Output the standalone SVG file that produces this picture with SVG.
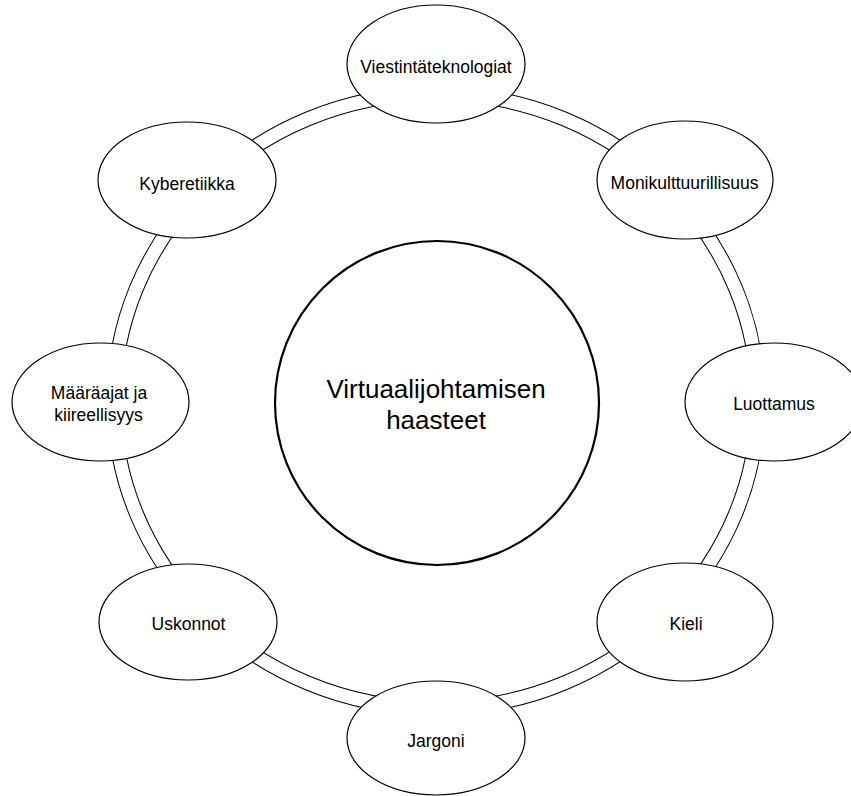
<svg xmlns="http://www.w3.org/2000/svg" width="851" height="796" viewBox="0 0 851 796">
<style>
.bg{fill:#fff}
.lo{fill:none;stroke:#000;stroke-width:15}
.li{fill:none;stroke:#fff;stroke-width:13}
.nd{fill:#fff;stroke:#000;stroke-width:1.2}
.hub{fill:#fff;stroke:#000;stroke-width:2.2}
.t{font-family:"Liberation Sans",Arial,Helvetica,sans-serif;font-size:17.5px;fill:#000;text-anchor:middle}
.th{font-family:"Liberation Sans",Arial,Helvetica,sans-serif;font-size:26px;fill:#000;text-anchor:middle}
</style>
<rect class="bg" x="0" y="0" width="851" height="796"/>
<g id="connectors">
  <g id="c1"><path class="lo" d="M436,93.5 A322,307.5 0 0 1 671.49,191.28"/><path class="li" d="M436,93.5 A322,307.5 0 0 1 671.49,191.28"/></g>
  <g id="c2"><path class="lo" d="M671.49,191.28 A322,307.5 0 0 1 758,401"/><path class="li" d="M671.49,191.28 A322,307.5 0 0 1 758,401"/></g>
  <g id="c3"><path class="lo" d="M758,401 A322,307.5 0 0 1 671.49,610.72"/><path class="li" d="M758,401 A322,307.5 0 0 1 671.49,610.72"/></g>
  <g id="c4"><path class="lo" d="M671.49,610.72 A322,307.5 0 0 1 436,708.5"/><path class="li" d="M671.49,610.72 A322,307.5 0 0 1 436,708.5"/></g>
  <g id="c5"><path class="lo" d="M436,708.5 A322,307.5 0 0 1 200.51,610.72"/><path class="li" d="M436,708.5 A322,307.5 0 0 1 200.51,610.72"/></g>
  <g id="c6"><path class="lo" d="M200.51,610.72 A322,307.5 0 0 1 114,401"/><path class="li" d="M200.51,610.72 A322,307.5 0 0 1 114,401"/></g>
  <g id="c7"><path class="lo" d="M114,401 A322,307.5 0 0 1 200.51,191.28"/><path class="li" d="M114,401 A322,307.5 0 0 1 200.51,191.28"/></g>
  <g id="c8"><path class="lo" d="M200.51,191.28 A322,307.5 0 0 1 436,93.5"/><path class="li" d="M200.51,191.28 A322,307.5 0 0 1 436,93.5"/></g>
</g>
<g id="hub">
  <circle class="hub" cx="437" cy="403" r="162"/>
  <text class="th" x="436" y="398">Virtuaalijohtamisen</text>
  <text class="th" x="436" y="428.5">haasteet</text>
</g>
<g id="n-viestinta">
  <ellipse class="nd" cx="436" cy="64" rx="89" ry="59"/>
  <text class="t" x="436" y="73">Viestintäteknologiat</text>
</g>
<g id="n-monikult">
  <ellipse class="nd" cx="685" cy="180" rx="88" ry="59"/>
  <text class="t" x="684.5" y="189">Monikulttuurillisuus</text>
</g>
<g id="n-luottamus">
  <ellipse class="nd" cx="774" cy="402" rx="89" ry="59"/>
  <text class="t" x="774" y="410">Luottamus</text>
</g>
<g id="n-kieli">
  <ellipse class="nd" cx="685" cy="622" rx="88" ry="59"/>
  <text class="t" x="686" y="629.5">Kieli</text>
</g>
<g id="n-jargoni">
  <ellipse class="nd" cx="436" cy="738" rx="89" ry="57"/>
  <text class="t" x="436" y="747">Jargoni</text>
</g>
<g id="n-uskonnot">
  <ellipse class="nd" cx="188" cy="622" rx="89" ry="58"/>
  <text class="t" x="188.5" y="630">Uskonnot</text>
</g>
<g id="n-maaraajat">
  <ellipse class="nd" cx="100.5" cy="402" rx="88.5" ry="59"/>
  <text class="t" x="99" y="399">Määräajat ja</text>
  <text class="t" x="98.5" y="421">kiireellisyys</text>
</g>
<g id="n-kyber">
  <ellipse class="nd" cx="187" cy="180" rx="89" ry="58"/>
  <text class="t" x="187" y="189.5">Kyberetiikka</text>
</g>
</svg>
